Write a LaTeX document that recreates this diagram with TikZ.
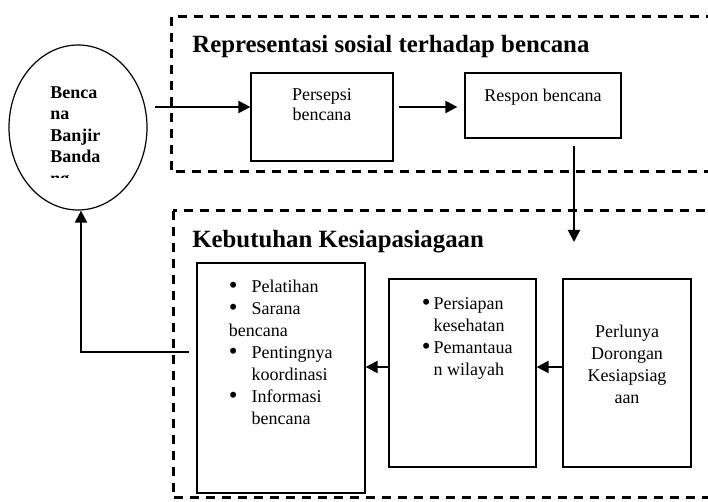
\documentclass[tikz,border=0pt]{standalone}
\usepackage{fontspec}
\setmainfont{Liberation Serif}
\usetikzlibrary{positioning,shapes.geometric,arrows.meta}

\newcommand{\butir}{\raisebox{-0.7pt}{\fontsize{12.5}{11}\selectfont\textbullet}}

\begin{document}
\begin{tikzpicture}[
        x=0.5pt, y=-0.5pt,
        font=\fontsize{9}{11}\selectfont,
        panel/.style={draw, line width=0.6pt, inner sep=0pt},
        txt/.style={inner sep=0pt, align=center},
        group/.style={draw, line width=1.5pt, dash pattern=on 4.5pt off 3.5pt},
        heading/.style={inner sep=0pt, anchor=base west, font=\fontsize{12.4}{14}\selectfont\bfseries},
        flow/.style={line width=1pt, -{Triangle[length=6pt,width=6pt]}}
    ]
    \useasboundingbox (0,0) rectangle (708,502);
    \clip (0,0) rectangle (708,502);

    % kelompok
    \draw[group] (171,17) rectangle (760,172);
    \draw[group] (173,211) rectangle (760,498);
    \node[heading] (judulatas) at (192,53) {Representasi sosial terhadap bencana};
    \node[heading] (judulbawah) at (192,248) {Kebutuhan Kesiapasiagaan};

    % bencana
    \node[panel, ellipse, minimum width=69pt, minimum height=82.5pt] (banjir) at (78,127.5) {};
    \begin{scope}
        \clip (0,0) rectangle (708,177.5);
        \node[inner sep=0pt, anchor=north west, align=left, font=\fontsize{9}{10.75}\selectfont\bfseries] (banjirteks) at (50,86) {Benca\\na\\Banjir\\Banda\\ng};
    \end{scope}

    % representasi
    \node[panel, minimum width=71pt, minimum height=44pt] (persepsi) at (322,117) {};
    \node[txt, font=\fontsize{9}{10}\selectfont, below=8pt of persepsi.north] (persepsiteks) {Persepsi\\bencana};
    \node[panel, minimum width=78pt, minimum height=32.5pt] (respon) at (543,105.5) {};
    \node[txt, below=8pt of respon.north] (responteks) {Respon bencana};

    % kesiapsiagaan
    \node[panel, minimum width=84pt, minimum height=115pt] (pelatihan) at (281,378) {};
    \node[txt, anchor=north west] (pelatihanteks) at ([xshift=16pt,yshift=-7pt]pelatihan.north west) {%
        \begin{tabular}{@{}l@{\hspace{7pt}}l@{}}
        \butir & Pelatihan\\
        \butir & Sarana\\
        \multicolumn{2}{@{}l@{}}{bencana}\\
        \butir & Pentingnya\\
        & koordinasi\\
        \butir & Informasi\\
        & bencana
        \end{tabular}};
    \node[panel, minimum width=73.5pt, minimum height=94pt] (persiapan) at (462.5,373) {};
    \node[txt, anchor=north west] (persiapanteks) at ([xshift=16.5pt,yshift=-7.5pt]persiapan.north west) {%
        \begin{tabular}{@{}l@{\hspace{1.5pt}}l@{}}
        \butir & Persiapan\\
        & kesehatan\\
        \butir & Pemantaua\\
        & n wilayah
        \end{tabular}};
    \node[panel, minimum width=64pt, minimum height=94pt] (perlu) at (627,373) {};
    \node[txt, below=23pt of perlu.north] (perluteks) {Perlunya\\Dorongan\\Kesiapsiag\\aan};

    % alur
    \coordinate (masuk) at (155,107);
    \coordinate (turun) at (574,242);
    \draw[flow] (masuk) -- (masuk -| persepsi.west);
    \draw[flow] ([xshift=2.5pt]persepsi.east |- masuk) -- ([xshift=-3.5pt]respon.west |- masuk);
    \draw[flow] ([xshift=15.5pt,yshift=-3.5pt]respon.south) -- (turun);
    \draw[flow] ([yshift=3pt]perlu.west) -- ([yshift=3pt]persiapan.east);
    \draw[flow] ([yshift=3pt]persiapan.west) -- ([yshift=3pt]persiapan.west -| pelatihan.east);
    \draw[flow] ([xshift=-3.5pt,yshift=13pt]pelatihan.west) -| ([xshift=1.5pt]banjir.south);
\end{tikzpicture}
\end{document}
